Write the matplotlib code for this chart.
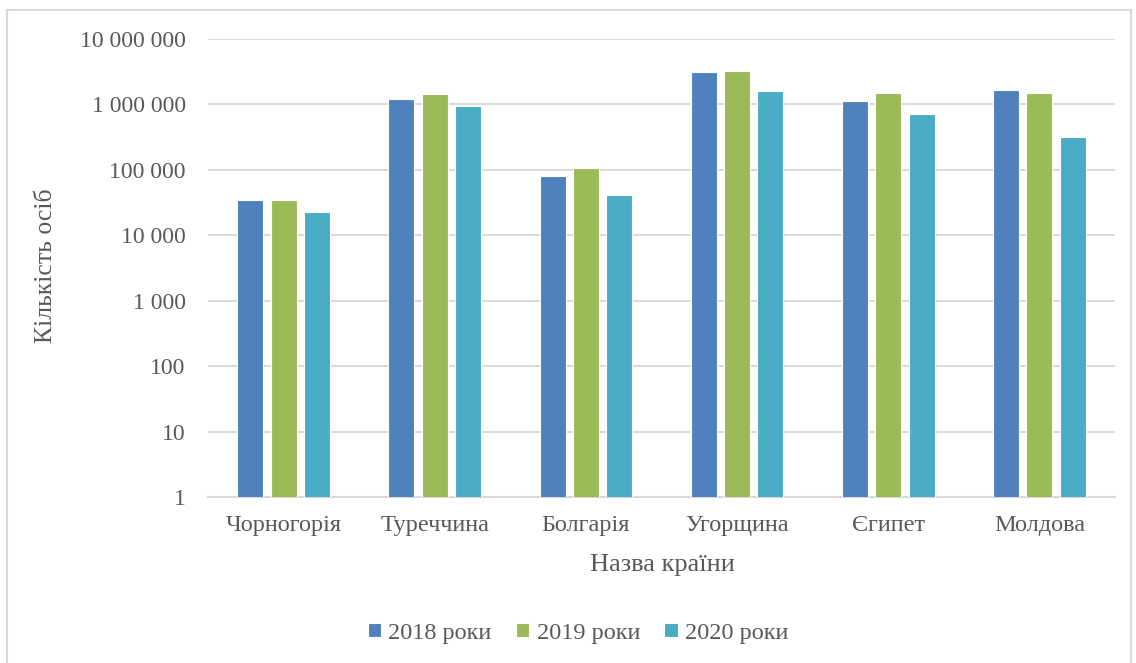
import numpy as np
import matplotlib.pyplot as plt
from matplotlib.ticker import FuncFormatter, FixedLocator
from matplotlib.patches import Rectangle

plt.rcParams["font.family"] = ["Liberation Serif", "DejaVu Serif"]

countries = ["Чорногорія", "Туреччина", "Болгарія", "Угорщина", "Єгипет", "Молдова"]
years = ["2018 роки", "2019 роки", "2020 роки"]
values_2018 = [35200, 1190000, 81000, 3170000, 1110000, 1640000]
values_2019 = [35000, 1460000, 105000, 3300000, 1510000, 1470000]
values_2020 = [22700, 955000, 42000, 1600000, 720000, 320000]
colors = ["#4F81BD", "#9BBB59", "#4BACC6"]
text_color = "#595959"
grid_color = "#D9D9D9"

fig = plt.figure(figsize=(11.36, 6.63), dpi=100)
ax = fig.add_axes([208 / 1136, 166 / 663, 907 / 1136, 458 / 663])

x = np.arange(len(countries))
width = 0.172
offsets = [-0.22, 0.0, 0.22]
for vals, off, col, lab in zip([values_2018, values_2019, values_2020], offsets, colors, years):
    ax.bar(x + off, vals, width=width, color=col, edgecolor="white", linewidth=0.8,
           label=lab, zorder=3)

ax.set_yscale("log")
ax.set_ylim(1, 1e7)
ax.set_xlim(-0.5, len(countries) - 0.5)
ax.yaxis.set_major_locator(FixedLocator([10 ** i for i in range(8)]))
ax.yaxis.set_minor_locator(FixedLocator([]))
ax.yaxis.set_major_formatter(FuncFormatter(lambda v, p: f"{int(round(v)):,}".replace(",", " ")))
ax.grid(axis="y", color=grid_color, linewidth=1.4, zorder=0)

for s in ["top", "right", "left"]:
    ax.spines[s].set_visible(False)
ax.spines["bottom"].set_color(grid_color)
ax.spines["bottom"].set_linewidth(1.5)

ax.set_xticks(x)
ax.set_xticklabels(countries)
ax.tick_params(axis="x", length=0, pad=13, labelsize=17.5, labelcolor=text_color)
ax.tick_params(axis="y", length=0, pad=16, labelsize=17, labelcolor=text_color)

fig.text(662 / 1136, 1 - 565 / 663, "Назва країни", ha="center", va="center",
         fontsize=19, color=text_color)
fig.text(46 / 1136, 1 - 266 / 663, "Кількість осіб", ha="center", va="center",
         rotation=90, fontsize=18.5, color=text_color)

fig.legend(loc="center", bbox_to_anchor=(578 / 1136, 1 - 633 / 663), ncol=3,
           frameon=False, fontsize=17.5, labelcolor=text_color, handlelength=0.55,
           handleheight=0.55, handletextpad=0.3, columnspacing=1.0)

fig.patches.append(Rectangle((7 / 1136, -0.05), 1124 / 1136, 1.05 - 10 / 663,
                             transform=fig.transFigure, fill=False,
                             edgecolor="#D9D9D9", linewidth=1.5))

fig.savefig("out.png", dpi=100)
